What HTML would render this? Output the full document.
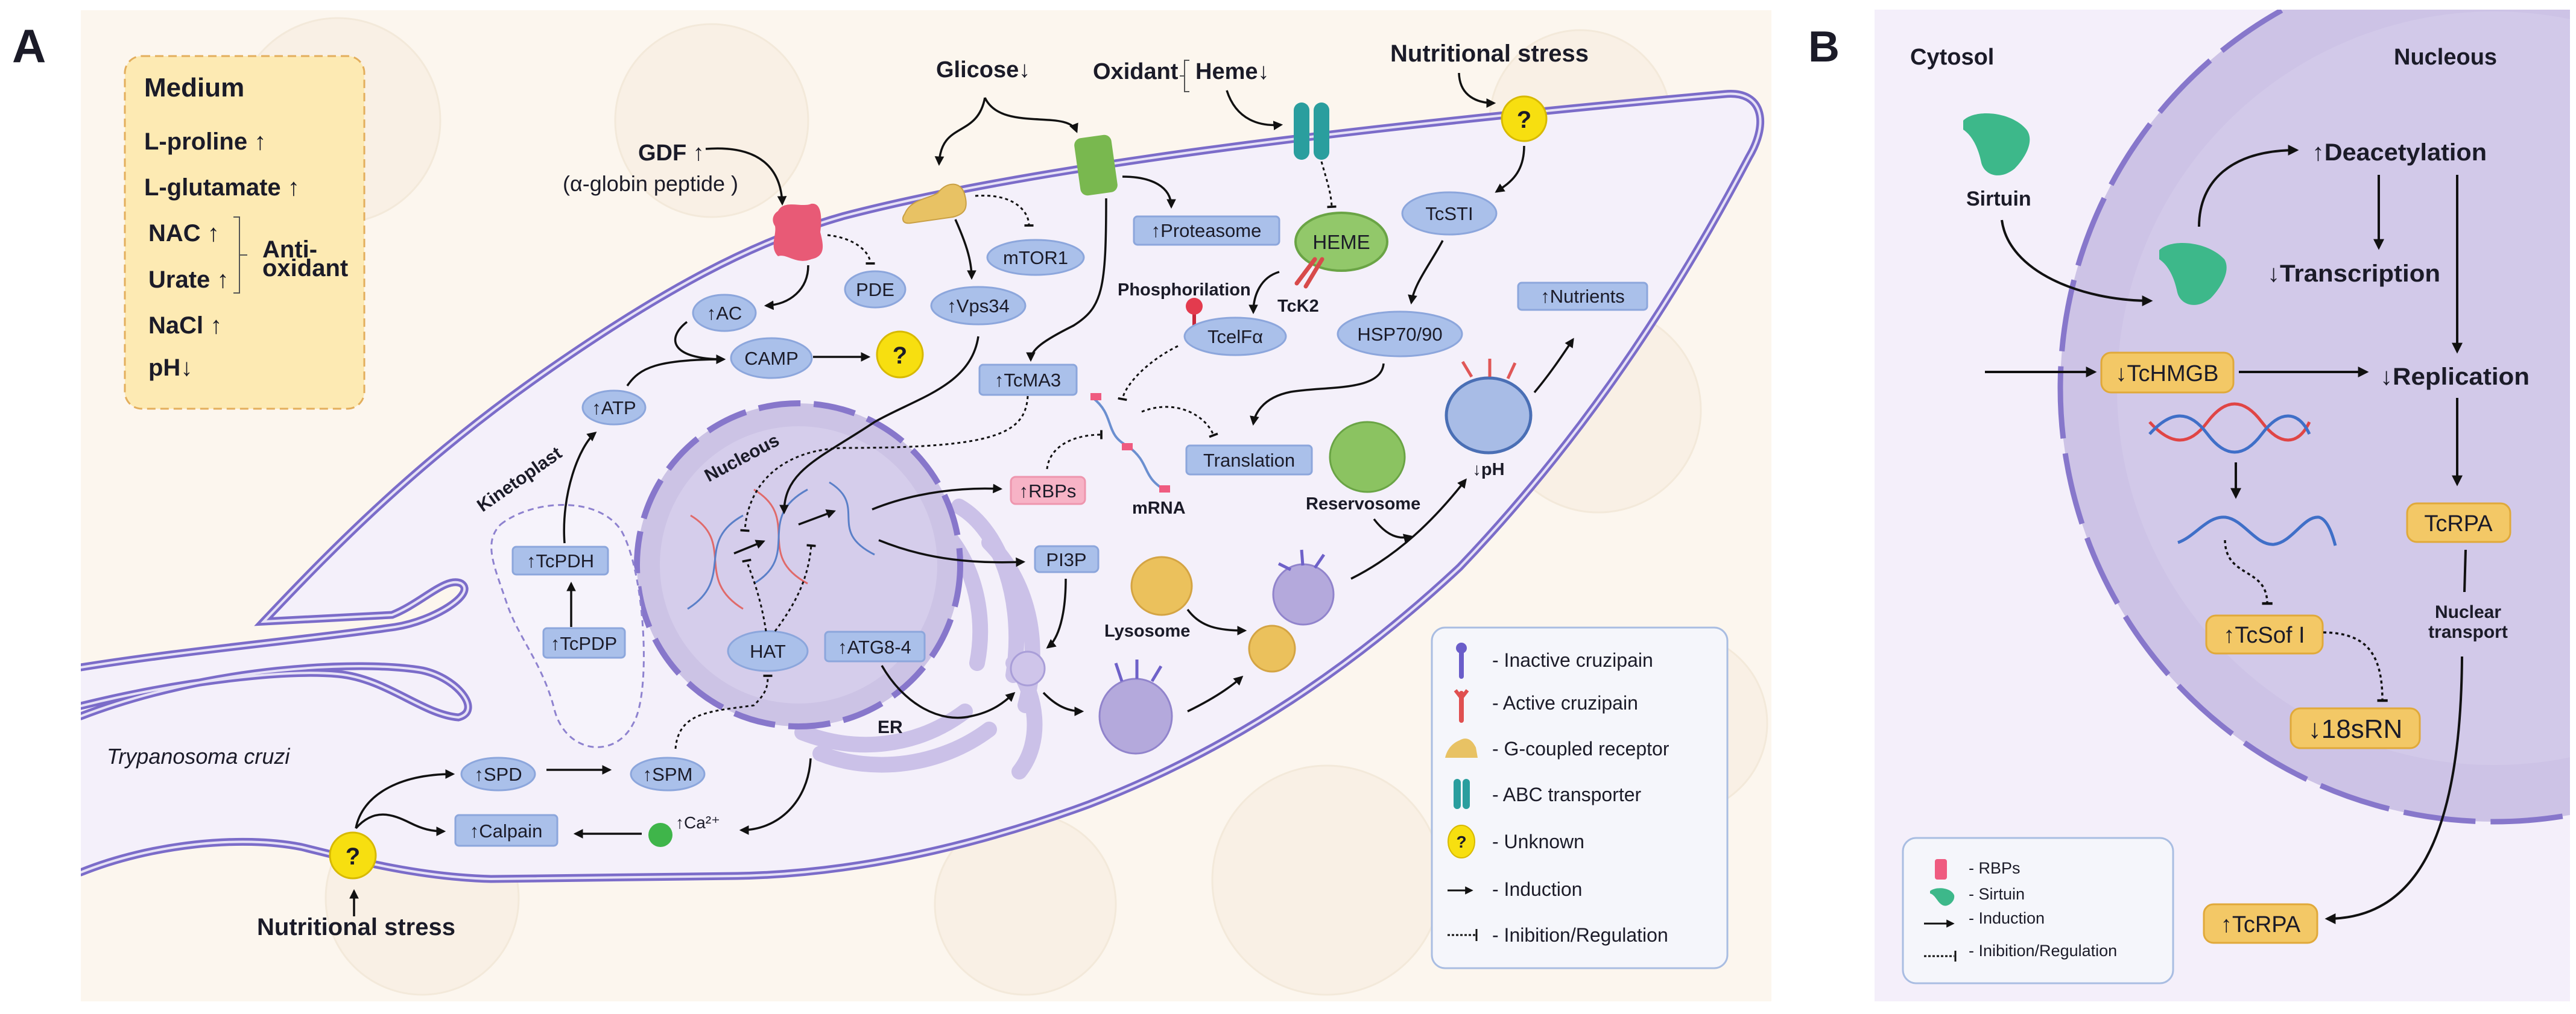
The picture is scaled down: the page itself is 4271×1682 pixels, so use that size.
<!DOCTYPE html>
<html><head><meta charset="utf-8"><style>
html,body{margin:0;padding:0;background:#fff;width:4271px;height:1682px;overflow:hidden;}
svg{display:block;}
text{font-family:"Liberation Sans Narrow","Liberation Sans",sans-serif;fill:#1b1b28;}
.b{font-weight:bold;}
.w{font-family:"Liberation Sans",sans-serif;}
.lb{font-size:31px;}
</style></head><body>
<svg width="4271" height="1682" viewBox="0 0 4271 1682" xmlns="http://www.w3.org/2000/svg">
<defs>
<marker id="ar" viewBox="0 0 10 10" refX="8" refY="5" markerWidth="4.5" markerHeight="4.5" orient="auto"><path d="M0,0 L10,5 L0,10 z" fill="#111"/></marker>
<marker id="tb" viewBox="0 0 10 10" refX="5" refY="5" markerWidth="5" markerHeight="5" orient="auto"><path d="M5,0 L5,10" stroke="#111" stroke-width="2.5"/></marker>
<clipPath id="ca"><rect x="134" y="17" width="2803" height="1644"/></clipPath>
<clipPath id="cb"><rect x="3108" y="16" width="1153" height="1645"/></clipPath>
</defs>

<text x="20" y="103" class="b w" font-size="78">A</text>
<text x="2998" y="102" class="b w" font-size="72">B</text>

<!-- PANEL A -->
<rect x="134" y="17" width="2803" height="1644" fill="#fcf6ee"/>
<g fill="#f9f0e5" stroke="#f3e9da" stroke-width="3">
<circle cx="560" cy="200" r="170"/><circle cx="1180" cy="200" r="160"/><circle cx="2620" cy="200" r="150"/>
<circle cx="2650" cy="680" r="170"/><circle cx="2200" cy="1460" r="190"/><circle cx="700" cy="1490" r="160"/>
<circle cx="1700" cy="1500" r="150"/><circle cx="2780" cy="1200" r="150"/>
</g>
<g clip-path="url(#ca)">
<path d="M134,1107 C300,1080 500,1062 655,1040 C720,1030 790,985 765,968 C740,955 700,1000 650,1020 L437,1031 C560,900 700,760 900,620 C1100,480 1250,400 1400,358 C1700,280 2200,215 2860,156 C2920,150 2935,200 2900,260 C2800,450 2650,700 2420,941 C2250,1100 2050,1240 1806,1334 C1600,1410 1400,1450 1222,1453 L814,1458 C700,1455 600,1430 500,1405 C400,1385 250,1400 134,1447 Z" fill="#f4f0fa"/>
<g fill="none" stroke-linecap="round">
<path d="M134,1107 C300,1080 500,1062 655,1040 C720,1030 790,985 765,968 C740,955 700,1000 650,1020 L437,1031 C560,900 700,760 900,620 C1100,480 1250,400 1400,358 C1700,280 2200,215 2860,156 C2920,150 2935,200 2900,260 C2800,450 2650,700 2420,941 C2250,1100 2050,1240 1806,1334 C1600,1410 1400,1450 1222,1453 L814,1458 C700,1455 600,1430 500,1405 C400,1385 250,1400 134,1447" stroke="#7b6cc9" stroke-width="13"/>
<path d="M134,1107 C300,1080 500,1062 655,1040 C720,1030 790,985 765,968 C740,955 700,1000 650,1020 L437,1031 C560,900 700,760 900,620 C1100,480 1250,400 1400,358 C1700,280 2200,215 2860,156 C2920,150 2935,200 2900,260 C2800,450 2650,700 2420,941 C2250,1100 2050,1240 1806,1334 C1600,1410 1400,1450 1222,1453 L814,1458 C700,1455 600,1430 500,1405 C400,1385 250,1400 134,1447" stroke="#e6e1f6" stroke-width="4"/>
<path d="M134,1171 C300,1130 470,1110 560,1118 C640,1125 700,1185 760,1190 C800,1180 760,1125 700,1112 C600,1095 350,1105 134,1188" stroke="#7b6cc9" stroke-width="13"/>
<path d="M134,1171 C300,1130 470,1110 560,1118 C640,1125 700,1185 760,1190 C800,1180 760,1125 700,1112 C600,1095 350,1105 134,1188" stroke="#e6e1f6" stroke-width="4"/>
</g>
</g>

<rect x="207" y="93" width="397" height="585" rx="28" fill="#fdeab3" stroke="#e3ae5c" stroke-width="3" stroke-dasharray="14 8"/>
<g class="b" font-size="40">
<text x="239" y="160" font-size="44">Medium</text>
<text x="239" y="248">L-proline ↑</text>
<text x="239" y="324">L-glutamate ↑</text>
<text x="246" y="400">NAC ↑</text>
<text x="246" y="477">Urate ↑</text>
<text x="246" y="553">NaCl ↑</text>
<text x="246" y="623">pH↓</text>
<text x="435" y="427">Anti-</text>
<text x="435" y="458">oxidant</text>
</g>
<path d="M387,360 H397 V486 H387 M397,423 H410" fill="none" stroke="#555" stroke-width="2"/>

<g>
<path d="M1540,860 C1600,900 1640,1000 1620,1100 M1590,840 C1660,880 1700,1000 1680,1120 M1640,900 C1700,960 1730,1060 1700,1170 M1330,1215 C1420,1250 1520,1240 1600,1180 M1360,1250 C1450,1285 1560,1270 1640,1210 M1680,1100 C1720,1150 1730,1230 1690,1280" fill="none" stroke="#cbc1e8" stroke-width="26" stroke-linecap="round"/>
<circle cx="1324" cy="937" r="268" fill="#ccc3e5"/>
<circle cx="1324" cy="937" r="230" fill="#d5cdeb"/>
<circle cx="1324" cy="937" r="268" fill="none" stroke="#8777cb" stroke-width="10" stroke-dasharray="70 22"/>
<text x="1455" y="1216" class="b" font-size="30">ER</text>
<text transform="translate(1175,800) rotate(-28)" class="b" font-size="30">Nucleous</text>
<text transform="translate(800,850) rotate(-35)" class="b" font-size="30">Kinetoplast</text>
</g>
<path d="M830,870 C880,830 990,820 1030,880 C1070,950 1080,1150 1050,1200 C1020,1260 940,1250 920,1180 C900,1100 860,1060 840,1000 C820,940 800,900 830,870 Z" fill="#f6f3fb" stroke="#8e82cf" stroke-width="3" stroke-dasharray="10 7"/>

<g fill="none" stroke-width="3">
<path d="M1145,855 C1220,900 1150,960 1232,1010" stroke="#e06a6a"/><path d="M1232,855 C1150,900 1220,960 1140,1010" stroke="#5a7fc8"/>
<path d="M1250,812 C1330,860 1250,920 1339,968" stroke="#e06a6a"/><path d="M1339,812 C1250,860 1330,920 1250,968" stroke="#5a7fc8"/>
<path d="M1375,800 C1440,840 1370,880 1450,920" stroke="#5a7fc8"/>
</g>

<ellipse cx="1926" cy="972" rx="50" ry="48" fill="#ebc15c" stroke="#d4a443" stroke-width="3"/>
<ellipse cx="1883" cy="1188" rx="60" ry="62" fill="#b4a9dc" stroke="#9184cc" stroke-width="3"/>
<g stroke="#6e61c9" stroke-width="5"><line x1="1860" y1="1130" x2="1850" y2="1100"/><line x1="1885" y1="1126" x2="1885" y2="1094"/><line x1="1910" y1="1130" x2="1925" y2="1105"/></g>
<ellipse cx="2161" cy="986" rx="50" ry="50" fill="#b4a9dc" stroke="#9184cc" stroke-width="3"/>
<ellipse cx="2109" cy="1076" rx="38" ry="38" fill="#ebc15c" stroke="#d4a443" stroke-width="3"/>
<g stroke="#6e61c9" stroke-width="5"><line x1="2140" y1="945" x2="2120" y2="935"/><line x1="2160" y1="938" x2="2158" y2="912"/><line x1="2180" y1="942" x2="2195" y2="920"/></g>
<circle cx="1704" cy="1109" r="28" fill="#cfc5ea" stroke="#a99ed8" stroke-width="3"/>
<ellipse cx="2267" cy="758" rx="62" ry="58" fill="#8bc361" stroke="#6aa445" stroke-width="3"/>
<ellipse cx="2468" cy="689" rx="70" ry="62" fill="#a8bce6" stroke="#4a6fb5" stroke-width="5"/>
<g stroke="#e05757" stroke-width="5"><line x1="2440" y1="625" x2="2425" y2="600"/><line x1="2470" y1="625" x2="2470" y2="595"/><line x1="2500" y1="628" x2="2512" y2="602"/></g>

<path d="M1290,350 C1300,330 1330,345 1345,338 C1365,335 1362,370 1360,385 C1365,405 1370,425 1345,430 C1320,440 1305,420 1290,425 C1275,410 1288,390 1285,375 C1278,365 1282,355 1290,350 Z" fill="#e85a76"/>
<path d="M1500,355 C1510,330 1540,330 1555,320 C1570,300 1595,300 1600,325 C1605,345 1600,355 1580,360 L1510,370 C1495,372 1495,362 1500,355 Z" fill="#e8c264" stroke="#c9a045" stroke-width="2"/>
<rect x="1786" y="226" width="62" height="96" rx="12" fill="#79b84f" transform="rotate(-8 1817 274)"/>
<g fill="#2a9e9e"><rect x="2145" y="170" width="26" height="95" rx="13"/><rect x="2178" y="170" width="26" height="95" rx="13"/></g>
<circle cx="2527" cy="197" r="37" fill="#f7df10" stroke="#d7b900" stroke-width="3"/>
<text x="2527" y="212" text-anchor="middle" class="b w" font-size="40" fill="#1d3a66">?</text>
<circle cx="1492" cy="588" r="38" fill="#f7df10" stroke="#d7b900" stroke-width="3"/>
<text x="1492" y="603" text-anchor="middle" class="b w" font-size="40" fill="#1d3a66">?</text>
<circle cx="585" cy="1419" r="38" fill="#f7df10" stroke="#d7b900" stroke-width="3"/>
<text x="585" y="1434" text-anchor="middle" class="b w" font-size="40" fill="#1d3a66">?</text>
<ellipse cx="2224" cy="401" rx="76" ry="48" fill="#92c86a" stroke="#6aa445" stroke-width="4"/>
<text x="2224" y="413" text-anchor="middle" font-size="33">HEME</text>
<path d="M2180,430 L2150,470 M2192,430 L2165,475" stroke="#d84a4a" stroke-width="7" stroke-linecap="round"/>
<circle cx="1095" cy="1385" r="20" fill="#3fb54a"/>
<text x="1120" y="1374" font-size="28" fill="#3aa845">↑Ca²⁺</text>
<path d="M1980,545 V515" stroke="#c8283a" stroke-width="6"/><circle cx="1980" cy="508" r="14" fill="#e33b4e"/>
<path d="M1812,660 C1850,690 1830,720 1870,740 C1910,770 1890,790 1935,815" fill="none" stroke="#6b8fd0" stroke-width="4"/>
<g fill="#ef5b80"><rect x="1808" y="652" width="18" height="12"/><rect x="1860" y="735" width="18" height="12"/><rect x="1922" y="805" width="18" height="12"/></g>

<g fill="#aac0ea" stroke="#8ca6dc" stroke-width="3">
<ellipse cx="1201" cy="519" rx="52" ry="30"/><ellipse cx="1279" cy="594" rx="67" ry="33"/>
<ellipse cx="1018" cy="676" rx="52" ry="28"/><ellipse cx="1451" cy="480" rx="50" ry="30"/>
<ellipse cx="1717" cy="427" rx="80" ry="29"/><ellipse cx="1622" cy="507" rx="78" ry="31"/>
<ellipse cx="2403" cy="354" rx="78" ry="35"/><ellipse cx="2321" cy="554" rx="103" ry="37"/>
<ellipse cx="2048" cy="558" rx="84" ry="31"/><ellipse cx="1273" cy="1080" rx="66" ry="33"/>
<ellipse cx="826" cy="1284" rx="61" ry="27"/><ellipse cx="1107" cy="1284" rx="61" ry="27"/>
</g>
<g class="lb" text-anchor="middle">
<text x="1201" y="530">↑AC</text><text x="1279" y="605">CAMP</text><text x="1018" y="687">↑ATP</text>
<text x="1451" y="491">PDE</text><text x="1717" y="438">mTOR1</text><text x="1622" y="518">↑Vps34</text>
<text x="2403" y="365">TcSTI</text><text x="2321" y="565">HSP70/90</text><text x="2048" y="569">TcelFα</text>
<text x="1273" y="1091">HAT</text><text x="826" y="1295">↑SPD</text><text x="1107" y="1295">↑SPM</text>
</g>
<g fill="#aac0ea" stroke="#8ca6dc" stroke-width="3">
<rect x="1880" y="359" width="241" height="47" rx="6"/><rect x="1624" y="605" width="161" height="50" rx="6"/>
<rect x="1967" y="739" width="208" height="48" rx="6"/><rect x="2517" y="469" width="214" height="45" rx="6"/>
<rect x="1716" y="906" width="105" height="43" rx="8"/><rect x="850" y="907" width="158" height="46" rx="6"/>
<rect x="901" y="1042" width="135" height="49" rx="6"/><rect x="1368" y="1048" width="165" height="49" rx="6"/>
<rect x="755" y="1352" width="169" height="51" rx="6"/>
</g>
<rect x="1676" y="791" width="123" height="45" rx="8" fill="#f7b3c6" stroke="#ee96ae" stroke-width="3"/>
<g class="lb" text-anchor="middle">
<text x="2000" y="393">↑Proteasome</text><text x="1704" y="641">↑TcMA3</text><text x="2071" y="774">Translation</text>
<text x="2624" y="502">↑Nutrients</text><text x="1768" y="939">PI3P</text><text x="929" y="941">↑TcPDH</text>
<text x="968" y="1078">↑TcPDP</text><text x="1450" y="1084">↑ATG8-4</text><text x="839" y="1389">↑Calpain</text>
<text x="1737" y="825">↑RBPs</text>
</g>

<g class="b" font-size="38">
<text x="1058" y="266">GDF ↑</text>
<text x="1552" y="128">Glicose↓</text>
<text x="1812" y="131">Oxidant</text><text x="1982" y="131">Heme↓</text>
<text x="2305" y="102" font-size="40">Nutritional stress</text>
<text x="426" y="1551" font-size="40">Nutritional stress</text>
</g>
<text x="933" y="317" font-size="36">(α-globin peptide )</text>
<path d="M1972,100 H1964 V152 H1972 M1964,126 H1956" fill="none" stroke="#555" stroke-width="2"/>
<g class="b" font-size="29">
<text x="1853" y="490">Phosphorilation</text><text x="2118" y="517">TcK2</text>
<text x="1877" y="852">mRNA</text><text x="2165" y="845">Reservosome</text><text x="1831" y="1056">Lysosome</text>
<text x="2468" y="788" text-anchor="middle">↓pH</text>
</g>
<text x="177" y="1267" font-size="36" font-style="italic">Trypanosoma cruzi</text>

<g fill="none" stroke="#111" stroke-width="3.5" marker-end="url(#ar)">
<path d="M1170,247 C1260,240 1295,280 1297,338"/>
<path d="M1340,440 C1340,480 1310,505 1270,507"/>
<path d="M1139,534 C1105,560 1110,596 1200,596"/>
<path d="M1040,640 C1060,610 1090,596 1200,596"/>
<path d="M1348,592 H1440"/>
<path d="M1633,162 C1620,230 1560,200 1557,272"/>
<path d="M1633,162 C1660,220 1770,180 1785,218"/>
<path d="M1584,364 C1600,400 1611,430 1611,461"/>
<path d="M1861,293 C1910,293 1942,310 1942,343"/>
<path d="M1834,329 C1834,480 1828,510 1780,540 C1730,565 1709,580 1709,597"/>
<path d="M1622,558 C1610,640 1520,660 1450,700 C1360,760 1300,780 1300,850"/>
<path d="M2034,150 C2050,200 2090,210 2124,207"/>
<path d="M2419,121 C2420,160 2450,171 2477,171"/>
<path d="M2527,242 C2527,290 2500,305 2481,318"/>
<path d="M2392,399 C2370,440 2345,470 2340,502"/>
<path d="M2294,603 C2290,650 2200,640 2140,650 C2090,660 2080,690 2078,703"/>
<path d="M2121,451 C2090,460 2078,490 2078,518"/>
<path d="M2544,651 C2570,620 2590,590 2608,563"/>
<path d="M2278,861 C2300,890 2320,895 2340,890"/>
<path d="M2240,960 C2320,920 2380,860 2430,796"/>
<path d="M1969,1011 C1990,1040 2020,1046 2064,1046"/>
<path d="M1969,1180 C2010,1160 2040,1140 2059,1123"/>
<path d="M1730,1149 C1750,1170 1770,1180 1794,1180"/>
<path d="M1767,960 C1767,1020 1755,1060 1737,1074"/>
<path d="M1462,1104 C1500,1170 1560,1200 1610,1188 C1650,1180 1670,1160 1681,1150"/>
<path d="M1446,845 C1520,815 1600,808 1659,811"/>
<path d="M1457,896 C1540,930 1620,935 1697,932"/>
<path d="M1217,918 L1266,898"/><path d="M1324,870 L1383,848"/>
<path d="M947,1040 V968"/>
<path d="M936,901 C930,820 960,740 987,718"/>
<path d="M906,1277 H1011"/>
<path d="M1064,1383 H954"/>
<path d="M1344,1258 C1340,1330 1290,1377 1229,1377"/>
<path d="M590,1374 C600,1320 660,1284 751,1284"/>
<path d="M590,1374 C620,1340 650,1350 680,1365 C700,1375 715,1379 736,1379"/>
<path d="M587,1520 V1478"/>
</g>
<g fill="none" stroke="#111" stroke-width="3" stroke-dasharray="5 5" marker-end="url(#tb)">
<path d="M1372,390 C1420,395 1443,420 1443,437"/>
<path d="M1617,325 C1680,320 1706,350 1706,374"/>
<path d="M2191,268 C2200,300 2207,320 2208,343"/>
<path d="M1953,574 C1900,600 1865,640 1861,662"/>
<path d="M1893,683 C1950,660 2000,690 2012,722"/>
<path d="M1736,778 C1740,740 1780,721 1826,721"/>
<path d="M1704,657 C1700,720 1650,743 1400,743 C1300,745 1240,800 1235,880"/>
<path d="M1120,1242 C1125,1180 1180,1180 1250,1170 C1270,1150 1273,1140 1273,1121"/>
<path d="M1270,1047 C1260,980 1240,940 1238,930"/>
<path d="M1285,1047 C1320,1000 1340,960 1345,905"/>
</g>

<rect x="2374" y="1041" width="490" height="565" rx="22" fill="#f5f6fb" stroke="#a9bde2" stroke-width="3"/>
<g>
<line x1="2423" y1="1078" x2="2423" y2="1122" stroke="#6a5dc9" stroke-width="8" stroke-linecap="round"/><circle cx="2423" cy="1075" r="9" fill="#6a5dc9"/>
<line x1="2423" y1="1150" x2="2423" y2="1195" stroke="#e05050" stroke-width="8" stroke-linecap="round"/><path d="M2413,1145 L2423,1158 L2433,1145" stroke="#e05050" stroke-width="6" fill="none"/>
<path d="M2396,1257 C2400,1240 2410,1232 2420,1228 C2430,1222 2440,1225 2447,1240 L2450,1257 Z" fill="#e8c264"/>
<rect x="2410" y="1292" width="12" height="50" rx="6" fill="#2a9e9e"/><rect x="2425" y="1292" width="12" height="50" rx="6" fill="#2a9e9e"/>
<ellipse cx="2423" cy="1396" rx="22" ry="27" fill="#f7df10" stroke="#d7b900" stroke-width="2"/><text x="2423" y="1406" text-anchor="middle" font-size="28" class="b" fill="#1d3a66">?</text>
<line x1="2400" y1="1477" x2="2440" y2="1477" stroke="#111" stroke-width="3" marker-end="url(#ar)"/>
<line x1="2400" y1="1551" x2="2447" y2="1551" stroke="#111" stroke-width="3" stroke-dasharray="4 3"/><line x1="2448" y1="1541" x2="2448" y2="1561" stroke="#111" stroke-width="3"/>
</g>
<g font-size="32">
<text x="2474" y="1106">-  Inactive cruzipain</text>
<text x="2474" y="1177">-  Active cruzipain</text>
<text x="2474" y="1253">-  G-coupled receptor</text>
<text x="2474" y="1329">-  ABC transporter</text>
<text x="2474" y="1407">-  Unknown</text>
<text x="2474" y="1486">-  Induction</text>
<text x="2474" y="1562">-  Inibition/Regulation</text>
</g>

<!-- PANEL B -->
<rect x="3108" y="16" width="1153" height="1645" fill="#f4effa"/>
<g clip-path="url(#cb)">
<circle cx="4135" cy="644" r="719" fill="#cdc3e6"/>
<circle cx="4135" cy="644" r="625" fill="#d2c9e9"/>
<circle cx="4135" cy="644" r="719" fill="none" stroke="#8777cb" stroke-width="9" stroke-dasharray="120 25"/>
</g>
<g class="b w" font-size="38">
<text x="3167" y="107">Cytosol</text>
<text x="3969" y="107">Nucleous</text>
<text x="3260" y="341" font-size="34">Sirtuin</text>
</g>
<path d="M3255,200 C3275,180 3335,185 3360,215 C3375,235 3355,265 3340,280 C3315,300 3290,290 3285,270 C3280,245 3270,225 3255,215 Z" fill="#3db88a"/>
<path d="M3580,415 C3600,395 3660,400 3688,430 C3700,450 3680,480 3665,495 C3640,515 3615,505 3610,485 C3605,460 3595,440 3580,430 Z" fill="#3db88a"/>
<g font-size="40" class="w" font-weight="bold" fill="#222">
<text x="3833" y="266" textLength="290" lengthAdjust="spacingAndGlyphs">↑Deacetylation</text>
<text x="3759" y="467" textLength="287" lengthAdjust="spacingAndGlyphs">↓Transcription</text>
<text x="3946" y="638" textLength="248" lengthAdjust="spacingAndGlyphs">↓Replication</text>
</g>
<g fill="#f3c866" stroke="#e0a93a" stroke-width="3">
<rect x="3484" y="585" width="219" height="66" rx="16"/>
<rect x="3658" y="1021" width="193" height="63" rx="16"/>
<rect x="3798" y="1175" width="214" height="66" rx="16"/>
<rect x="3991" y="835" width="171" height="64" rx="16"/>
<rect x="3654" y="1500" width="188" height="64" rx="16"/>
</g>
<g class="w" text-anchor="middle" font-size="38">
<text x="3593" y="632">↓TcHMGB</text>
<text x="3754" y="1066">↑TcSof I</text>
<text x="3905" y="1224" font-size="44">↓18sRN</text>
<text x="4076" y="881">TcRPA</text>
<text x="3748" y="1546">↑TcRPA</text>
</g>
<g class="b w" font-size="30" text-anchor="middle"><text x="4092" y="1025">Nuclear</text><text x="4092" y="1058">transport</text></g>
<g fill="none" stroke-width="5">
<path d="M3564,700 C3600,740 3630,740 3660,700 C3690,660 3720,660 3750,700 C3780,740 3810,740 3829,700" stroke="#e04545"/>
<path d="M3564,740 C3600,700 3630,700 3660,740 C3690,780 3720,780 3750,740 C3780,700 3810,700 3829,740" stroke="#3f6fc8" transform="translate(0,-20)"/>
<path d="M3611,900 C3640,890 3660,855 3690,858 C3720,862 3740,905 3770,903 C3800,900 3820,855 3845,858 C3860,862 3868,890 3872,905" stroke="#3f6fc8"/>
</g>
<g fill="none" stroke="#111" stroke-width="4" marker-end="url(#ar)">
<path d="M3319,365 C3330,450 3450,499 3566,499"/>
<path d="M3646,376 C3646,300 3700,249 3808,249"/>
<path d="M3944,290 V411"/>
<path d="M4074,290 V583"/>
<path d="M3291,617 H3473"/>
<path d="M3712,617 H3924"/>
<path d="M3707,767 V824"/>
<path d="M4074,660 V803"/>
<path d="M4082,1089 C4080,1400 4000,1524 3858,1524"/>
</g>
<path d="M4088,912 L4086,982" stroke="#111" stroke-width="4"/>
<g fill="none" stroke="#111" stroke-width="3.5" stroke-dasharray="5 5" marker-end="url(#tb)">
<path d="M3689,896 C3690,960 3759,940 3759,1001"/>
<path d="M3852,1049 C3920,1050 3950,1080 3950,1162"/>
</g>
<rect x="3155" y="1390" width="448" height="241" rx="22" fill="#f5f6fb" stroke="#a9bde2" stroke-width="3"/>
<rect x="3208" y="1425" width="20" height="34" rx="4" fill="#ef5b80"/>
<path d="M3200,1478 C3210,1470 3235,1472 3240,1485 C3242,1495 3230,1505 3222,1502 C3212,1498 3210,1485 3200,1482 Z" fill="#3db88a"/>
<line x1="3190" y1="1532" x2="3238" y2="1532" stroke="#111" stroke-width="3" marker-end="url(#ar)"/>
<line x1="3190" y1="1586" x2="3240" y2="1586" stroke="#111" stroke-width="3" stroke-dasharray="4 3"/><line x1="3242" y1="1577" x2="3242" y2="1595" stroke="#111" stroke-width="3"/>
<g class="w" font-size="27">
<text x="3264" y="1449">- RBPs</text>
<text x="3264" y="1492">- Sirtuin</text>
<text x="3264" y="1532">- Induction</text>
<text x="3264" y="1586">- Inibition/Regulation</text>
</g>
</svg>
</body></html>
